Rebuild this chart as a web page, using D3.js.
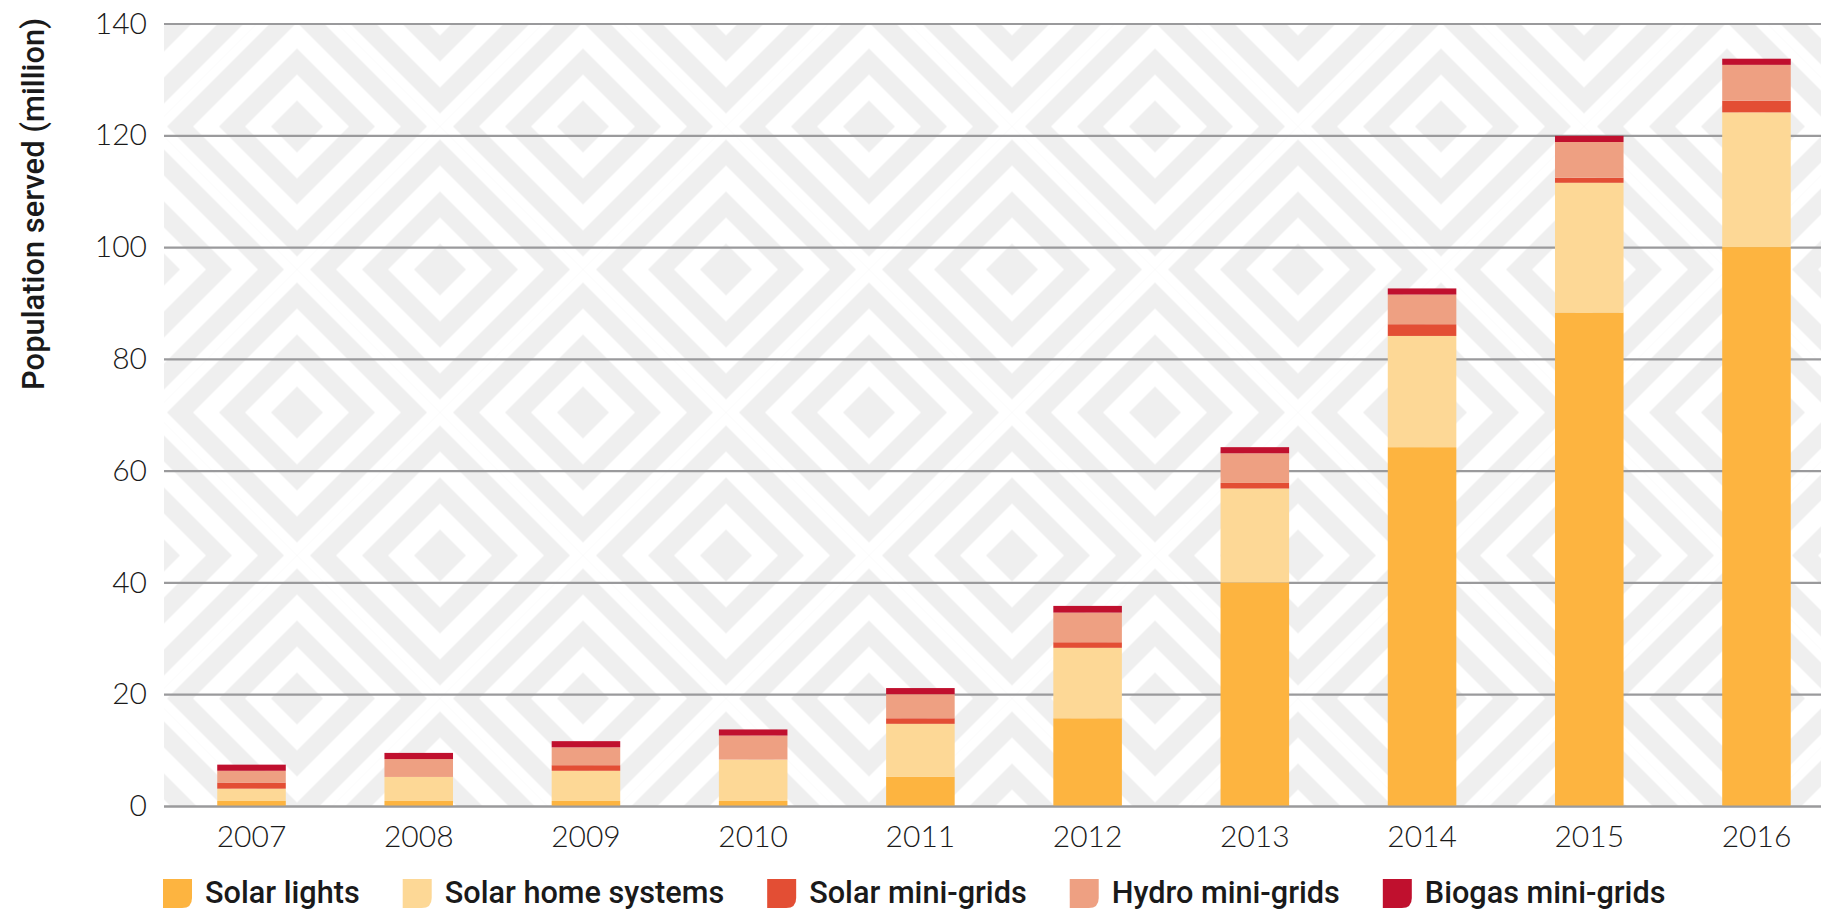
<!DOCTYPE html>
<html>
<head>
<meta charset="utf-8">
<script src="https://cdn.jsdelivr.net/npm/d3@7"></script>
<style>
  html, body { margin: 0; padding: 0; background: #ffffff; }
  svg { display: block; }
</style>
</head>
<body>
<svg id="chart" width="1821" height="910"></svg>
<script>
// ---------------- DATA ----------------
const years = ["2007", "2008", "2009", "2010", "2011", "2012", "2013", "2014", "2015", "2016"];
const seriesNames = ["Solar lights", "Solar home systems", "Solar mini-grids", "Hydro mini-grids", "Biogas mini-grids"];
const solarLights      = [0.9, 0.9, 0.9, 0.9, 5.2, 15.7, 40.0, 64.2, 88.3, 100.0];
const solarHomeSystems = [2.2, 4.3, 5.4, 7.4, 9.5, 12.6, 16.8, 19.9, 23.2, 24.1];
const solarMiniGrids   = [1.1, 0.0, 1.0, 0.0, 1.0, 1.0, 1.0, 2.1, 0.9, 2.1];
const hydroMiniGrids   = [2.1, 3.2, 3.2, 4.3, 4.3, 5.3, 5.3, 5.3, 6.4, 6.4];
const biogasMiniGrids  = [1.1, 1.1, 1.1, 1.1, 1.1, 1.2, 1.1, 1.1, 1.1, 1.1];
const yTicks = [0, 20, 40, 60, 80, 100, 120, 140];
const yTitle = "Population served (million)";

// ---------------- STYLE ----------------
const seriesColors = ["#FDB440", "#FDD896", "#E34E34", "#EEA082", "#C0102E"];
const plot = { left: 164, right: 1821, top: 23.5, bottom: 806 };
const labelFont = "Lato, 'Open Sans', sans-serif";
const legendFont = "Roboto, 'Noto Sans', sans-serif";

const seriesArrays = [solarLights, solarHomeSystems, solarMiniGrids, hydroMiniGrids, biogasMiniGrids];
const keys = seriesNames;
const table = years.map((yr, i) => {
  const row = { year: yr };
  keys.forEach((k, j) => row[k] = seriesArrays[j][i]);
  return row;
});

const svg = d3.select("#chart");

// ---------------- SCALES ----------------
const y = d3.scaleLinear().domain([0, 140]).range([plot.bottom, plot.top]);
const x = d3.scaleBand().domain(years).range([167.9, 1840.1]).paddingInner(0.59).paddingOuter(0.295);
const color = d3.scaleOrdinal().domain(keys).range(seriesColors);

// ---------------- BACKGROUND PATTERN ----------------
const defs = svg.append("defs");
const B = 26, R = 5.5 * B, T = 2 * R;
const pat = defs.append("pattern")
  .attr("id", "bgpat")
  .attr("patternUnits", "userSpaceOnUse")
  .attr("width", T).attr("height", T)
  .attr("x", 154).attr("y", 23.5 - 40);
pat.append("rect").attr("width", T).attr("height", T).attr("fill", "#efefef");
const centers = [[0, 0], [T, 0], [0, T], [T, T], [R, R]];
const rings = [R, 5 * B, 4 * B, 3 * B, 2 * B, B];
centers.forEach(([cx, cy]) => {
  rings.forEach((r, i) => {
    pat.append("polygon")
      .attr("points", `${cx},${cy - r} ${cx + r},${cy} ${cx},${cy + r} ${cx - r},${cy}`)
      .attr("fill", i % 2 === 0 ? "#ffffff" : "#efefef");
  });
});
svg.append("rect")
  .attr("x", plot.left).attr("y", plot.top)
  .attr("width", plot.right - plot.left).attr("height", plot.bottom - plot.top)
  .attr("fill", "url(#bgpat)");

// ---------------- Y AXIS + GRID ----------------
const yAxis = svg.append("g")
  .attr("transform", `translate(${plot.left},0)`)
  .call(d3.axisLeft(y).tickValues(yTicks).tickSize(-(plot.right - plot.left)).tickPadding(17));
yAxis.select(".domain").remove();
yAxis.selectAll(".tick line").attr("stroke", "#9a9a9c").attr("stroke-width", 2.2);
yAxis.selectAll(".tick text")
  .attr("font-family", labelFont).attr("font-weight", 300)
  .attr("font-size", 30).attr("fill", "#1a1a1a");

// ---------------- BARS ----------------
const stacked = d3.stack().keys(keys)(table);
svg.append("g").selectAll("g")
  .data(stacked).join("g")
  .attr("fill", d => color(d.key))
  .selectAll("rect")
  .data(d => d).join("rect")
  .attr("x", d => x(d.data.year))
  .attr("width", x.bandwidth())
  .attr("y", d => y(d[1]))
  .attr("height", d => Math.max(0, y(d[0]) - y(d[1])));

// zero line on top of bars
const zeroAxis = svg.append("g")
  .attr("transform", `translate(${plot.left},0)`)
  .call(d3.axisLeft(y).tickValues([0]).tickSize(-(plot.right - plot.left + 2)).tickFormat(""));
zeroAxis.select(".domain").remove();
zeroAxis.selectAll(".tick line").attr("stroke", "#9a9a9c").attr("stroke-width", 2.2);

// ---------------- X AXIS ----------------
const xAxis = svg.append("g")
  .attr("transform", `translate(0,${plot.bottom})`)
  .call(d3.axisBottom(x).tickSize(0).tickPadding(20));
xAxis.select(".domain").remove();
xAxis.selectAll(".tick text")
  .attr("font-family", labelFont).attr("font-weight", 300)
  .attr("font-size", 30).attr("fill", "#1a1a1a");

// ---------------- Y TITLE ----------------
const yt = svg.append("text")
  .attr("transform", "translate(44,204) rotate(-90)")
  .attr("text-anchor", "middle")
  .attr("font-family", legendFont).attr("font-weight", 500)
  .attr("font-size", 28).attr("fill", "#1a1a1a")
  .text(yTitle);
{
  const w = yt.node().getComputedTextLength();
  yt.attr("font-size", 28 * 372 / w);
}

// ---------------- LEGEND ----------------
const legend = svg.append("g").attr("class", "legend");
const items = legend.selectAll("g").data(keys).join("g");
const sw = 29, rr = 10;
items.append("path")
  .attr("d", `M0,0 H${sw} V${sw - rr} Q${sw},${sw} ${sw - rr},${sw} H0 Z`)
  .attr("fill", d => color(d));
const texts = items.append("text")
  .attr("x", 42).attr("y", 24)
  .attr("font-family", legendFont).attr("font-weight", 500)
  .attr("font-size", 30).attr("fill", "#1a1a1a")
  .text(d => d);
let total = 0;
texts.each(function () { total += this.getComputedTextLength(); });
texts.attr("font-size", 30 * 1121 / total);
let lx = 163;
items.each(function () {
  const g = d3.select(this);
  g.attr("transform", `translate(${lx},879)`);
  const tw = g.select("text").node().getComputedTextLength();
  lx += 42 + tw + 43;
});
</script>
</body>
</html>
